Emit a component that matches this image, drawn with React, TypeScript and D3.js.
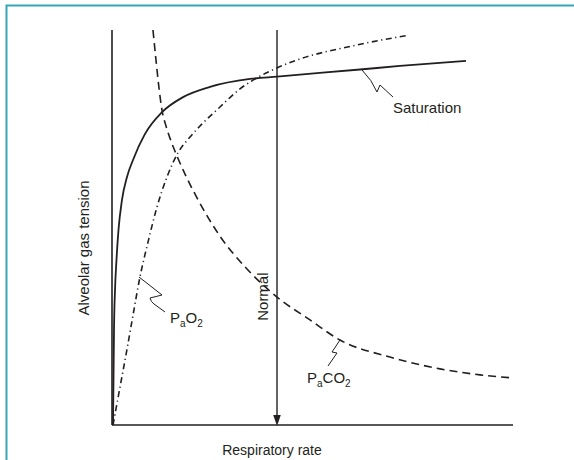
import React from "react";
import * as d3 from "d3";

// Respiratory rate (relative units) and alveolar gas tension (relative units)
const saturationRate = [0.25, 0.37, 0.5, 0.75, 1.12, 1.62, 2.49, 3.74, 5.24, 8.23, 12.47, 17.71, 24.44, 34.41, 41.15, 46.88, 61.85, 71.82, 88.28];
const saturationTension = [0, 11.4, 24.1, 34.2, 41.8, 49.4, 57.0, 62.8, 67.1, 73.7, 79.2, 83.0, 85.6, 87.6, 88.2, 88.7, 90.0, 90.9, 92.2];

const paO2Rate = [0.25, 2.0, 3.74, 5.24, 6.98, 8.98, 11.22, 13.72, 16.46, 19.45, 21.95, 26.93, 31.92, 35.16, 41.15, 46.13, 59.6, 74.06];
const paO2Tension = [0, 9.6, 19.2, 27.8, 37.5, 46.3, 55.2, 62.8, 68.9, 72.9, 75.7, 80.5, 85.1, 87.3, 90.4, 92.4, 95.9, 98.7];

const paCO2Rate = [10.22, 10.97, 11.72, 12.47, 13.47, 14.71, 16.21, 18.45, 21.2, 26.93, 33.67, 41.15, 49.38, 56.86, 69.33, 81.8, 91.77, 100];
const paCO2Tension = [100, 92.4, 85.3, 79.7, 75.7, 71.9, 68.1, 63.0, 57.5, 47.8, 39.5, 32.4, 26.6, 21.5, 17.2, 14.2, 12.7, 11.9];

const normalRate = 41.15;

const axisTitles = { x: "Respiratory rate", y: "Alveolar gas tension" };
const normalLabel = "Normal";

const W = 574;
const H = 460;
const ink = "#231f20";
const frame = "#35a7b4";
const font = "'Liberation Sans', Arial, Helvetica, sans-serif";

const x = d3.scaleLinear().domain([0, 100]).range([112, 513]);
const y = d3.scaleLinear().domain([0, 100]).range([425, 30]);

const line = d3
  .line<[number, number]>()
  .x((d) => x(d[0]))
  .y((d) => y(d[1]))
  .curve(d3.curveMonotoneX);

const zip = (a: number[], b: number[]): [number, number][] => a.map((v, i) => [v, b[i]]);

function Label({
  x0,
  y0,
  main,
  sub,
  rest,
  sub2,
}: {
  x0: number;
  y0: number;
  main: string;
  sub?: string;
  rest?: string;
  sub2?: string;
}) {
  return (
    <text x={x0} y={y0} fontFamily={font} fontSize={15} fill={ink}>
      {main}
      {sub && (
        <tspan fontSize={10} dy={4}>
          {sub}
        </tspan>
      )}
      {rest && <tspan dy={-4}>{rest}</tspan>}
      {sub2 && (
        <tspan fontSize={10} dy={4}>
          {sub2}
        </tspan>
      )}
    </text>
  );
}

export default function App() {
  const sat = line(zip(saturationRate, saturationTension)) || "";
  const o2 = line(zip(paO2Rate, paO2Tension)) || "";
  const co2 = line(zip(paCO2Rate, paCO2Tension)) || "";

  const nx = x(normalRate);
  const [x0, x1] = x.range();
  const [yb, yt] = y.range();

  // zig-zag leader lines from each curve to its label
  const satLeader = "M362,70 Q372,80 377,92 L380,85 L393,97";
  const o2Leader = "M139,277 L162,295 L150,298 Q151,302 154,304 L165,312";
  const co2Leader = "M340,340 L332,352 L337,353 L328,366";

  return (
    <svg
      width={W}
      height={H}
      viewBox={`0 0 ${W} ${H}`}
      style={{ position: "fixed", left: 0, top: 0, background: "#fff" }}
    >
      {/* open frame */}
      <path d={`M6.5,${H} L6.5,5.5 L${W},5.5`} fill="none" stroke={frame} strokeWidth={2} />

      {/* axes */}
      <line x1={x0} y1={yt} x2={x0} y2={yb} stroke={ink} strokeWidth={1.6} />
      <line x1={x0} y1={yb} x2={x1} y2={yb} stroke={ink} strokeWidth={1.6} />

      {/* normal rate marker */}
      <line x1={nx} y1={yt} x2={nx} y2={yb - 8} stroke={ink} strokeWidth={1.4} />
      <path d={`M${nx - 3.8},${yb - 10} L${nx + 3.8},${yb - 10} L${nx},${yb + 1} Z`} fill={ink} />
      <text
        transform={`translate(${nx - 9},${y(32.5)}) rotate(-90)`}
        textAnchor="middle"
        fontFamily={font}
        fontSize={15}
        fill={ink}
      >
        {normalLabel}
      </text>

      {/* curves */}
      <path d={sat} fill="none" stroke={ink} strokeWidth={1.8} />
      <path d={o2} fill="none" stroke={ink} strokeWidth={1.6} strokeDasharray="6,3.5,1.2,3.5" />
      <path d={co2} fill="none" stroke={ink} strokeWidth={1.6} strokeDasharray="8,5" />

      {/* leaders */}
      <path d={satLeader} fill="none" stroke={ink} strokeWidth={1} />
      <path d={o2Leader} fill="none" stroke={ink} strokeWidth={1} />
      <path d={co2Leader} fill="none" stroke={ink} strokeWidth={1} />

      {/* curve labels */}
      <Label x0={393} y0={113} main="Saturation" />
      <Label x0={170} y0={323} main="P" sub="a" rest="O" sub2="2" />
      <Label x0={307} y0={383} main="P" sub="a" rest="CO" sub2="2" />

      {/* axis titles */}
      <text x={272} y={455} textAnchor="middle" fontFamily={font} fontSize={14} fill={ink}>
        {axisTitles.x}
      </text>
      <text
        transform={`translate(89,248) rotate(-90)`}
        textAnchor="middle"
        fontFamily={font}
        fontSize={15}
        fill={ink}
      >
        {axisTitles.y}
      </text>
    </svg>
  );
}
